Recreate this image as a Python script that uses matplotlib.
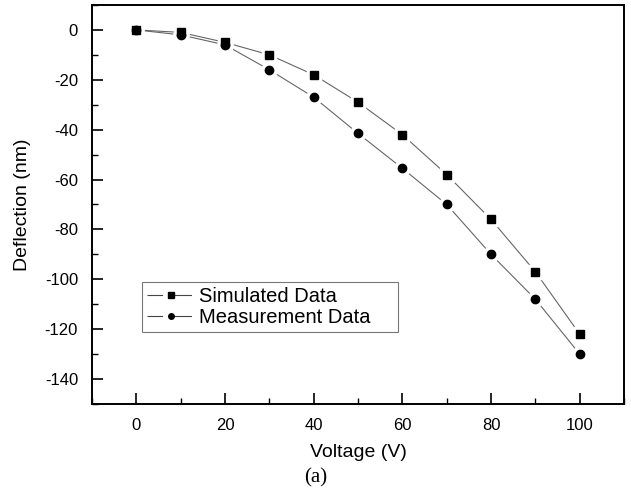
import numpy as np
import matplotlib
matplotlib.use("Agg")
import matplotlib.pyplot as plt
from matplotlib.lines import Line2D
from matplotlib.ticker import MultipleLocator

voltage = [0, 10, 20, 30, 40, 50, 60, 70, 80, 90, 100]
simulated = [0, -1, -5, -10, -18, -29, -42, -58, -76, -97, -122]
measured = [0, -2, -6, -16, -27, -41.5, -55.5, -70, -90, -108, -130]

plt.rcParams['font.family'] = ['Liberation Sans', 'DejaVu Sans']
plt.rcParams['axes.unicode_minus'] = False

fig = plt.figure(figsize=(6.31, 4.96), dpi=100)
ax = fig.add_axes([0.1458, 0.1855, 0.8432, 0.8045])

series = [(simulated, 's', 5.3, 'Simulated Data    '),
          (measured, 'o', 6.0, 'Measurement Data    ')]
handles = []
for ys, mk, size, name in series:
    # line with a small gap around each marker, the way Origin draws it
    ax.plot(voltage, ys, color='#666666', lw=0.8, zorder=1)
    ax.plot(voltage, ys, ls='none', marker=mk, ms=size + 5, mfc='white',
            mec='white', zorder=2)
    ax.plot(voltage, ys, ls='none', marker=mk, ms=size, mfc='black',
            mec='black', zorder=3)
    handles.append(Line2D([], [], color='#444444', lw=0.8, ls=(0, (14, 6, 20, 4)),
                          marker=mk, ms=4, mfc='black', mec='black', label=name))

ax.set_xlim(-10, 110)
ax.set_ylim(-150, 10)
ax.xaxis.set_major_locator(MultipleLocator(20))
ax.xaxis.set_minor_locator(MultipleLocator(10))
ax.yaxis.set_major_locator(MultipleLocator(20))
ax.yaxis.set_minor_locator(MultipleLocator(10))
ax.tick_params(which='major', direction='in', length=8, width=1.2, labelsize=12, pad=10)
ax.tick_params(which='minor', direction='in', length=4, width=1.0)
for s in ax.spines.values():
    s.set_linewidth(1.4)

ax.set_xlabel('Voltage (V)', fontsize=14, labelpad=8)
ax.set_ylabel('Deflection (nm)', fontsize=14, labelpad=10)

leg = ax.legend(handles=handles, loc='lower left', bbox_to_anchor=(0.094, 0.18),
                borderaxespad=0, fontsize=14.5, frameon=True, fancybox=False,
                handlelength=2.4, handletextpad=0.2, labelspacing=0.12,
                borderpad=0.25)
leg.get_frame().set_edgecolor('#555555')
leg.get_frame().set_linewidth(0.8)

fig.text(0.5, 0.036, '(a)', ha='center', va='center', fontsize=15,
         family=['Liberation Serif', 'DejaVu Serif'])

fig.savefig('out.png', dpi=100)
